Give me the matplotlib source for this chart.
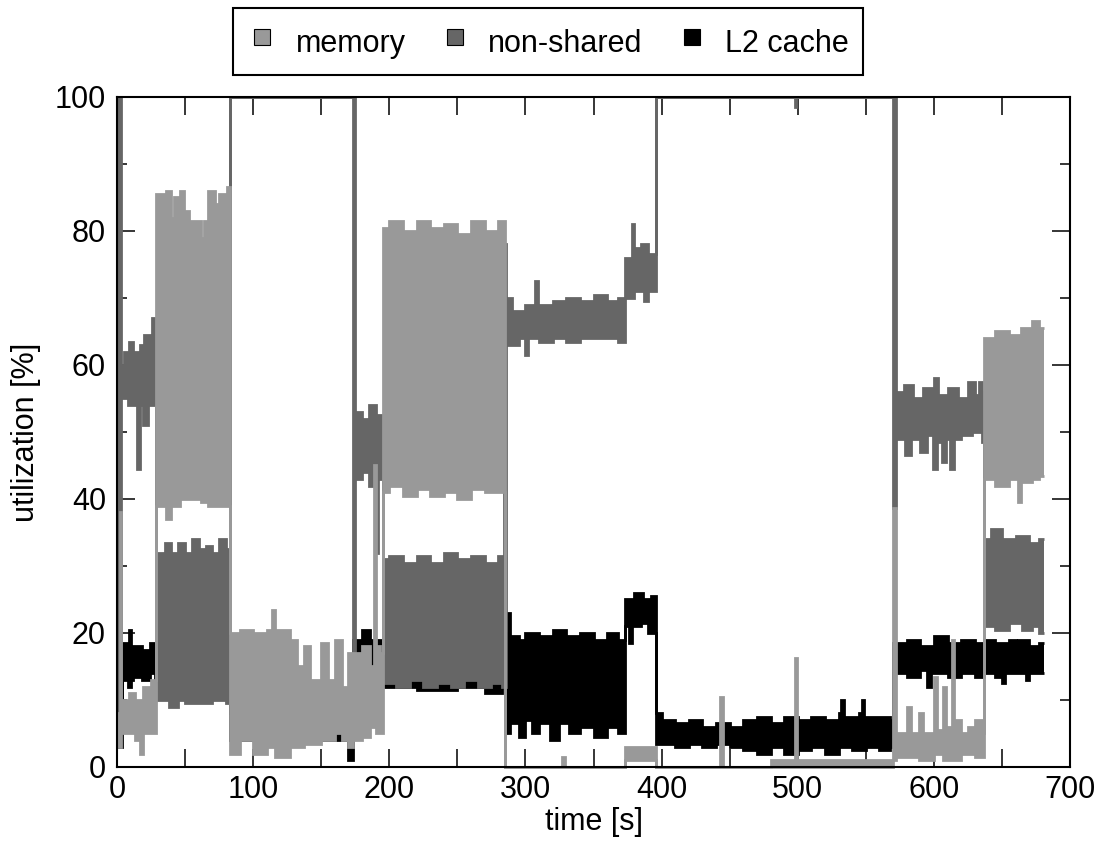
import numpy as np
import matplotlib
matplotlib.use("Agg")
import matplotlib.pyplot as plt
from matplotlib.lines import Line2D
from matplotlib.ticker import MultipleLocator

plt.rcParams['font.family'] = ['Liberation Sans', 'DejaVu Sans']

# rows: (time [s], lower edge, upper edge) of the trace, step-wise
memory = [
    (0, 3, 8), (2, 3, 38), (3, 5, 10), (9, 5, 11), (13, 4, 10), (17, 2, 10),
    (19, 5, 12), (25, 5, 13),
    (29, 39, 85.5), (36, 37, 86), (40, 39, 82), (42, 39, 85), (46, 40, 86),
    (49, 40, 83), (53, 40, 81.5), (62, 39.5, 79), (64, 39.5, 81.5), (67, 39, 86),
    (72, 39, 84), (75, 39, 85.5), (79, 39, 84), (81, 39, 86.5),
    (83, 2, 20), (90, 4, 20.5), (100, 2, 20), (110, 3, 20.5), (114, 3, 23.5),
    (116, 1.5, 20.5), (127, 3, 19), (132, 3, 15), (137, 3.5, 18), (142, 3.5, 13),
    (150, 4, 18.5), (155, 4, 13), (160, 5, 19), (165, 4, 12), (170, 3, 17),
    (173, 4, 17), (180, 4.5, 18), (186, 6, 15), (189, 6, 45), (190, 5, 18),
    (193, 5, 17),
    (195, 41, 80.5), (200, 42, 81.5), (210, 40.5, 80), (220, 41.5, 81.5),
    (230, 40.5, 80.5), (240, 41, 81), (250, 40, 79.5), (260, 41.5, 81.5),
    (270, 41, 80), (280, 41, 81.5),
    (285, 0, 0), (327, 0, 1.5), (329, 0, 0), (373, 1, 3), (396, 0, 0),
    (443, 0, 10.5), (445, 0, 0), (480, 0, 1), (498, 0, 16.3), (499.5, 0, 1),
    (570, 1, 38.6), (572, 1.5, 5), (580, 1.5, 9), (583, 1.5, 5), (589, 1, 8),
    (592, 1, 5), (600, 2, 13.5), (602, 2, 5.5), (607, 1, 12), (609, 1, 6),
    (613, 1, 19), (615, 1, 7), (620, 2, 5), (625, 2, 6), (630, 1.5, 7),
    (635, 1.5, 5),
    (637, 43, 64), (645, 42, 65), (655, 43, 64.5), (662, 39.5, 64.5),
    (664, 42.5, 65.5), (672, 43, 66.5), (677, 43.5, 65.5), (681, 43.5, 65.5),
]

non_shared = [
    (0, 8, 100), (3, 55, 60), (5, 55, 62), (8, 54, 62), (9, 54, 63.5),
    (12, 54, 62), (15, 44.5, 62), (17, 54, 63), (19, 51, 63), (20, 51, 64.5),
    (23, 54, 64.5), (24, 54, 61), (26, 54, 67), (28, 54, 62),
    (29, 10, 32), (35, 10, 33.5), (38, 9, 33.5), (40, 9, 32), (45, 10, 33.5),
    (50, 9.5, 32), (55, 9.5, 34), (60, 9.5, 32.5), (65, 9.5, 33), (70, 10, 32),
    (75, 10, 34), (80, 9.5, 32.5),
    (83, 100, 100), (173, 9.5, 100),
    (175, 43, 53), (180, 44, 52), (185, 42, 54), (188, 43.5, 54),
    (190, 32, 52.5), (192, 43, 52.5),
    (195, 12.5, 31), (200, 12.5, 31.5), (205, 12, 31.5), (210, 12, 30.5),
    (215, 13, 30.5), (220, 13, 31.5), (225, 12, 31.5), (230, 12, 30.5),
    (235, 12.5, 30.5), (240, 12.5, 32), (245, 12, 32), (250, 12, 31),
    (255, 13, 31), (260, 13, 31.5), (265, 12, 31.5), (270, 12, 30.5),
    (275, 12.5, 30.5), (280, 12.5, 31.5), (283, 12, 31.5), (284, 12, 78),
    (286, 63, 70), (290, 63, 68), (295, 64, 68), (300, 61.5, 69), (302, 64, 69),
    (307, 64, 72.5), (309, 64, 69), (310, 63.5, 69), (320, 64, 69.5),
    (330, 63.5, 70), (340, 64, 69.5), (350, 64, 70.5), (360, 64, 69.5),
    (368, 63.5, 70),
    (373, 70, 76), (378, 70, 81), (380, 71, 77.5), (385, 71, 78),
    (387, 69.5, 78), (390, 71, 76.5),
    (396, 100, 100), (498, 98.5, 100), (499, 100, 100), (570, 38.6, 100),
    (572, 49, 56), (578, 49, 57), (579, 46.5, 57), (583, 49, 57), (585, 49, 55),
    (590, 47, 55), (592, 47, 56.5), (595, 49.5, 56.5), (599, 44.5, 56.5),
    (600, 44.5, 58), (602, 48.5, 58), (603, 48.5, 55.5), (606, 45.5, 55.5),
    (609, 49, 55.5), (610, 49, 56.5), (612, 44.5, 56.5), (615, 49, 56.5),
    (618, 49, 55), (620, 49.5, 55), (625, 49.5, 57.5), (628, 50, 57.5),
    (630, 50, 55.5), (633, 50, 57.5), (635, 48.5, 56),
    (637, 21, 34), (642, 21, 35.5), (645, 20.5, 35.5), (650, 20.5, 34),
    (655, 21.5, 34), (660, 21.5, 34.5), (665, 20.5, 34.5), (670, 20.5, 33.5),
    (672, 21, 33.5), (677, 20, 34), (681, 20, 34),
]

l2_cache = [
    (0, 3, 6), (4, 13, 18.5), (8, 12, 17), (9, 12, 20.5), (10, 13, 17),
    (12, 13.5, 18), (18, 13, 17.5), (24, 14, 18.5), (28, 13, 17),
    (29, 11, 13), (83, 4, 8), (170, 1, 8),
    (173, 15, 19), (180, 14, 20.5), (186, 15, 19),
    (195, 12, 14), (220, 11.5, 14), (250, 12, 14), (270, 11, 14), (283, 12, 14),
    (285, 5, 20), (287, 5, 23), (289, 6.5, 19.5), (295, 4.5, 19), (300, 7, 20),
    (305, 5, 20), (310, 6.5, 19.5), (318, 4, 19.5), (320, 4, 20.5),
    (325, 6.5, 20.5), (330, 6.5, 19.5), (332, 5, 19.5), (340, 6, 20),
    (350, 4.5, 19), (360, 6, 20), (368, 5, 19),
    (373, 21, 25), (376, 18.5, 25), (378, 21, 25), (380, 21, 26),
    (385, 21.5, 26), (386, 21.5, 25), (390, 20, 25), (392, 20, 25.5),
    (396, 3.5, 8), (400, 3.5, 7), (410, 3, 6.5), (420, 3.5, 7), (430, 3, 6),
    (440, 3.5, 6.5), (450, 3, 6), (460, 2.5, 7), (470, 2, 7.5), (480, 3, 6.5),
    (490, 2, 7.5), (500, 2.5, 7), (510, 3, 7.5), (520, 2, 7), (530, 3, 8),
    (532, 3, 10), (534, 3, 7.5), (540, 2.5, 7.5), (545, 2.5, 8), (547, 2.5, 10),
    (549, 2.5, 7.5), (550, 3, 7.5), (560, 2.5, 7.5), (568, 3, 7),
    (570, 14, 18.5), (580, 13.5, 19), (590, 14.5, 18), (595, 12, 18),
    (598, 14, 18), (600, 14, 19.5), (610, 13.5, 18.5), (620, 14, 19),
    (630, 13.5, 18.5),
    (637, 14, 19), (645, 13.5, 18.5), (650, 12.5, 18.5), (652, 14, 18.5),
    (655, 14, 19), (660, 14, 16.5), (662, 14, 19), (668, 13, 19), (670, 14, 18),
    (677, 14, 18.5), (681, 14, 18.5),
]

series_names = ['memory', 'non-shared', 'L2 cache']
series_colors = ['#999999', '#666666', '#000000']

fig = plt.figure(figsize=(11.06, 8.47), dpi=100)
ax = fig.add_axes([0.1058, 0.0945, 0.8617, 0.791])

# L2 at the bottom, memory on top
for rows, color, z in [(l2_cache, series_colors[2], 2),
                       (non_shared, series_colors[1], 3),
                       (memory, series_colors[0], 4)]:
    arr = np.array(rows, dtype=float)
    t, lo, hi = arr[:, 0], arr[:, 1], arr[:, 2]
    ax.fill_between(t, lo, hi, step='post', color=color, lw=0, zorder=z)
    for edge in (hi, lo):
        ax.step(t, edge, where='post', color=color, lw=2.0, zorder=z,
                clip_on=False, solid_capstyle='butt', solid_joinstyle='miter')

ax.set_xlim(0, 700)
ax.set_ylim(0, 100)
ax.xaxis.set_major_locator(MultipleLocator(100))
ax.xaxis.set_minor_locator(MultipleLocator(50))
ax.yaxis.set_major_locator(MultipleLocator(20))
ax.yaxis.set_minor_locator(MultipleLocator(10))
ax.tick_params(which='both', direction='in', top=True, right=True, width=1.1,
               labelsize=22)
ax.tick_params(which='major', length=13)
ax.tick_params(which='minor', length=7)
ax.tick_params(axis='x', which='both', pad=6)
ax.tick_params(axis='x', which='minor', length=13)
ax.tick_params(axis='y', pad=8)
for sp in ax.spines.values():
    sp.set_linewidth(1.5)
    sp.set_zorder(6)

ax.set_xlabel('time [s]', fontsize=22, labelpad=1)
ax.set_ylabel('utilization [%]', fontsize=22, labelpad=10)

handles = [Line2D([], [], marker='s', ls='none', markersize=11,
                  markerfacecolor=c, markeredgecolor='black', markeredgewidth=0.8)
           for c in series_colors]
leg = fig.legend(handles, series_names, loc='center', bbox_to_anchor=(0.4955, 0.951),
                 ncol=3, frameon=True, fancybox=False, edgecolor='black',
                 framealpha=1, borderpad=0.45, handletextpad=0.6,
                 columnspacing=1.1, handlelength=1.0, handleheight=1.6,
                 prop={'size': 22})
leg.get_frame().set_linewidth(1.5)

fig.savefig('out.png', dpi=100)
